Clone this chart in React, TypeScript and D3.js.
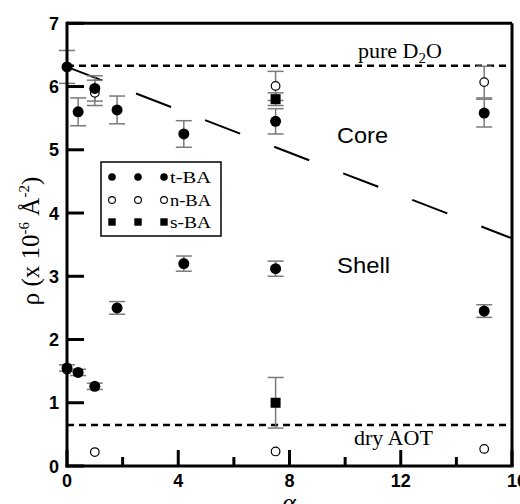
import React from 'react';
import * as d3 from 'd3';

// t-BA (filled circles): core and shell values at each alpha
const tbaAlpha = [0, 0.4, 1.0, 1.8, 4.2, 7.5, 15];
const tbaCore = [6.31, 5.6, 5.97, 5.63, 5.25, 5.45, 5.58];
const tbaCoreErr = [0.26, 0.22, 0.2, 0.22, 0.21, 0.2, 0.22];
const tbaShell = [1.55, 1.48, 1.26, 2.5, 3.2, 3.12, 2.45];
const tbaShellErr = [0.05, 0.05, 0.05, 0.1, 0.12, 0.12, 0.1];

// n-BA (open circles)
const nbaCoreAlpha = [1.0, 7.5, 15];
const nbaCore = [5.9, 6.01, 6.07];
const nbaCoreErr = [0.2, 0.23, 0.25];
const nbaShellAlpha = [0, 1.0, 7.5, 15];
const nbaShell = [1.52, 0.22, 0.23, 0.27];

// s-BA (filled squares)
const sbaAlpha = [7.5, 7.5];
const sba = [5.8, 1.0];
const sbaErr = [0.1, 0.4];

// reference levels and core/shell boundary
const pureD2O = 6.33;
const dryAOT = 0.65;
const boundaryAlpha = [0, 16];
const boundaryRho = [6.31, 3.6];

const xMajor = [0, 4, 8, 12, 16];
const xMinor = [2, 6, 10, 14];
const yTicks = [0, 1, 2, 3, 4, 5, 6, 7];

const legendLabels = ['t-BA', 'n-BA', 's-BA'];

const W = 520;
const H = 504;
const sans = 'Liberation Sans, Arial, sans-serif';
const serif = 'Liberation Serif, Times New Roman, serif';
const errColor = '#7a7a7a';

const App = () => {
  const x = d3.scaleLinear().domain([0, 16]).range([67, 512]);
  const y = d3.scaleLinear().domain([0, 7]).range([466, 23.3]);

  const boundary = d3.line<number>()
    .x((_, i) => x(boundaryAlpha[i]))
    .y((d) => y(d))(boundaryRho);

  const errBar = (a: number, v: number, e: number, key: string) => {
    if (!e) return null;
    const cx = x(a);
    return (
      <g key={key} stroke={errColor} strokeWidth={1.5}>
        <line x1={cx} x2={cx} y1={y(v + e)} y2={y(v - e)} />
        <line x1={cx - 8} x2={cx + 8} y1={y(v + e)} y2={y(v + e)} />
        <line x1={cx - 8} x2={cx + 8} y1={y(v - e)} y2={y(v - e)} />
      </g>
    );
  };

  const legendX = [112, 138, 164];
  const legendY = [177, 200, 222];

  return (
    <svg width={W} height={H} style={{ position: 'absolute', left: 0, top: 0, background: '#fff' }}>
      {/* reference lines */}
      <line x1={x(0)} x2={x(16)} y1={y(pureD2O)} y2={y(pureD2O)} stroke="#000" strokeWidth={2.5} strokeDasharray="7,5" />
      <line x1={x(0)} x2={x(16)} y1={y(dryAOT)} y2={y(dryAOT)} stroke="#000" strokeWidth={2.5} strokeDasharray="7,5" />
      <path d={boundary || ''} fill="none" stroke="#000" strokeWidth={2} strokeDasharray="37.5,36.5" />

      {/* error bars */}
      {tbaAlpha.map((a, i) => errBar(a, tbaCore[i], tbaCoreErr[i], `tc${i}`))}
      {tbaAlpha.map((a, i) => errBar(a, tbaShell[i], tbaShellErr[i], `ts${i}`))}
      {nbaCoreAlpha.map((a, i) => errBar(a, nbaCore[i], nbaCoreErr[i], `nc${i}`))}
      {sbaAlpha.map((a, i) => errBar(a, sba[i], sbaErr[i], `sb${i}`))}

      {/* markers */}
      {nbaCoreAlpha.map((a, i) => (
        <circle key={`no${i}`} cx={x(a)} cy={y(nbaCore[i])} r={4.3} fill="#fff" stroke="#000" strokeWidth={1.2} />
      ))}
      {nbaShellAlpha.map((a, i) => (
        <circle key={`ns${i}`} cx={x(a)} cy={y(nbaShell[i])} r={4.3} fill="#fff" stroke="#000" strokeWidth={1.2} />
      ))}
      {sbaAlpha.map((a, i) => (
        <rect key={`sq${i}`} x={x(a) - 5} y={y(sba[i]) - 5} width={10} height={10} fill="#000" />
      ))}
      {tbaAlpha.map((a, i) => (
        <circle key={`fc${i}`} cx={x(a)} cy={y(tbaCore[i])} r={5.5} fill="#000" />
      ))}
      {tbaAlpha.map((a, i) => (
        <circle key={`fs${i}`} cx={x(a)} cy={y(tbaShell[i])} r={5.5} fill="#000" />
      ))}

      {/* frame */}
      <g stroke="#000" strokeWidth={3} fill="none">
        <line x1={x(0)} x2={x(16)} y1={y(7)} y2={y(7)} />
        <line x1={x(16)} x2={x(16)} y1={y(7)} y2={y(0)} />
        <line x1={x(0)} x2={x(0)} y1={y(7) - 1.5} y2={y(0) + 1.5} />
        <line x1={x(0) - 1.5} x2={x(16) + 1.5} y1={y(0)} y2={y(0)} />
        {yTicks.map((t) => (
          <line key={`yt${t}`} x1={x(0)} x2={x(0) + 17} y1={y(t)} y2={y(t)} />
        ))}
        {xMajor.map((t) => (
          <line key={`xM${t}`} x1={x(t)} x2={x(t)} y1={y(0)} y2={y(0) - 16} />
        ))}
        {xMinor.map((t) => (
          <line key={`xm${t}`} x1={x(t)} x2={x(t)} y1={y(0)} y2={y(0) - 9} />
        ))}
      </g>

      {/* tick labels */}
      {yTicks.map((t) => (
        <text key={`yl${t}`} x={59} y={y(t) + 6.5} textAnchor="end" fontFamily={sans} fontWeight="bold" fontSize={18}>
          {t}
        </text>
      ))}
      {xMajor.map((t) => (
        <text key={`xl${t}`} x={x(t) + (t === 16 ? 5 : 0)} y={487} textAnchor="middle" fontFamily={sans} fontWeight="bold" fontSize={18}>
          {t}
        </text>
      ))}

      {/* axis titles */}
      <text x={289} y={511} textAnchor="middle" fontFamily={serif} fontStyle="italic" fontSize={26}>α</text>
      <text transform="translate(39,241) rotate(-90)" textAnchor="middle" fontFamily={serif} fontSize={25}>
        ρ (x 10<tspan dy={-10} fontSize={15}>-6</tspan>
        <tspan dy={10}> Å</tspan>
        <tspan dy={-10} fontSize={15}>-2</tspan>
        <tspan dy={10}>)</tspan>
      </text>

      {/* annotations */}
      <text x={358} y={58} fontFamily={serif} fontSize={22}>
        pure D<tspan dy={5} fontSize={15}>2</tspan><tspan dy={-5}>O</tspan>
      </text>
      <text x={354} y={445} fontFamily={serif} fontSize={22}>dry AOT</text>
      <text x={337} y={143} fontFamily={sans} fontSize={22} textLength={51} lengthAdjust="spacingAndGlyphs">Core</text>
      <text x={337} y={273} fontFamily={sans} fontSize={22} textLength={53} lengthAdjust="spacingAndGlyphs">Shell</text>

      {/* legend */}
      <rect x={101} y={162} width={120} height={74} fill="#fff" stroke="#000" strokeWidth={1.5} />
      {legendLabels.map((lab, r) => (
        <g key={lab}>
          {legendX.map((lx, k) =>
            r === 0 ? (
              <circle key={k} cx={lx} cy={legendY[r]} r={3.8} fill="#000" />
            ) : r === 1 ? (
              <circle key={k} cx={lx} cy={legendY[r]} r={3.4} fill="#fff" stroke="#000" strokeWidth={1.1} />
            ) : (
              <rect key={k} x={lx - 3.7} y={legendY[r] - 3.7} width={7.4} height={7.4} fill="#000" />
            )
          )}
          <text x={170} y={legendY[r] + 5.5} fontFamily={serif} fontSize={16} textLength={41} lengthAdjust="spacingAndGlyphs">
            {lab}
          </text>
        </g>
      ))}
    </svg>
  );
};

export default App;
